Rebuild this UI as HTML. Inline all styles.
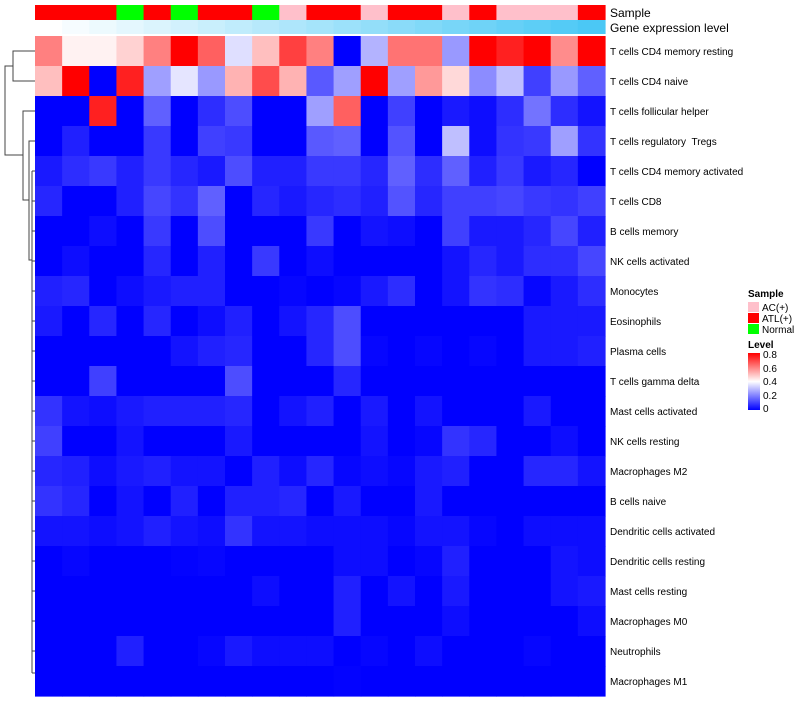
<!DOCTYPE html>
<html><head><meta charset="utf-8"><style>
body{margin:0;background:#fff;font-family:"Liberation Sans",sans-serif;}
svg text{font-family:"Liberation Sans",sans-serif;}
</style></head><body>
<svg id="chart" width="800" height="700" xmlns="http://www.w3.org/2000/svg">
<g id="dendro" stroke="#444" fill="none" stroke-width="1">
<path d="M35,51 H13 V81 H35"/>
<path d="M13,66 H5 V155 H23"/>
<path d="M35,111 H23 V200 H29"/>
<path d="M35,141 H29 V260 H32"/>
<path d="M32,171 V673"/>
<path d="M32,171 H35 M32,201 H35 M32,231 H35 M32,261 H35 M32,291 H35 M32,321 H35 M32,351 H35 M32,381 H35 M32,411 H35 M32,441 H35 M32,471 H35 M32,501 H35 M32,531 H35 M32,561 H35 M32,591 H35 M32,621 H35 M32,651 H35 M32,673 H35"/>
</g>
<g id="cells"></g>
<g id="annot"></g>
<g id="labels"></g>
<text x="610" y="17" font-size="12">Sample</text>
<text x="610" y="32" font-size="12">Gene expression level</text>
<g>
<text x="748" y="297" font-size="10" font-weight="bold">Sample</text>
<rect x="748" y="302" width="11" height="10" fill="#FFC0CB"/>
<text x="762" y="311" font-size="10">AC(+)</text>
<rect x="748" y="313" width="11" height="10" fill="#FF0000"/>
<text x="762" y="322" font-size="10">ATL(+)</text>
<rect x="748" y="324" width="11" height="10" fill="#00FF00"/>
<text x="762" y="333" font-size="10">Normal</text>
<text x="748" y="348" font-size="10" font-weight="bold">Level</text>
<defs><linearGradient id="lg" x1="0" y1="1" x2="0" y2="0"><stop offset="0" stop-color="#0000FF"/><stop offset="0.5" stop-color="#FFFFFF"/><stop offset="1" stop-color="#FF0000"/></linearGradient></defs>
<rect x="748" y="353" width="12" height="57" fill="url(#lg)"/>
<text x="763" y="358" font-size="10">0.8</text>
<text x="763" y="372" font-size="10">0.6</text>
<text x="763" y="385" font-size="10">0.4</text>
<text x="763" y="399" font-size="10">0.2</text>
<text x="763" y="412" font-size="10">0</text>
</g>
</svg>
<script>
const rowNames=["T cells CD4 memory resting","T cells CD4 naive","T cells follicular helper","T cells regulatory\u00a0\u00a0Tregs","T cells CD4 memory activated","T cells CD8","B cells memory","NK cells activated","Monocytes","Eosinophils","Plasma cells","T cells gamma delta","Mast cells activated","NK cells resting","Macrophages M2","B cells naive","Dendritic cells activated","Dendritic cells resting","Mast cells resting","Macrophages M0","Neutrophils","Macrophages M1"];
const sampleGroups=["ATL","ATL","ATL","N","ATL","N","ATL","ATL","N","AC","ATL","ATL","AC","ATL","ATL","AC","ATL","AC","AC","AC","ATL"];
const geneLevel=[0,0.05,0.1,0.15,0.2,0.25,0.3,0.35,0.4,0.45,0.5,0.55,0.6,0.65,0.7,0.75,0.8,0.85,0.9,0.95,1];
const v0=[.6,.42,.42,.47,.6,.8,.65,.35,.5,.7,.6,0,.28,.62,.62,.24,.8,.75,.8,.58,.8];
const v1=[.5,.8,0,.75,.25,.36,.24,.52,.68,.52,.14,.25,.8,.25,.56,.46,.22,.3,.1,.24,.15];
const v2=[0,0,.75,0,.15,0,.07,.12,0,0,.25,.65,0,.1,0,.04,.02,.07,.18,.07,.03];
const v3=[0,.05,0,0,.09,0,.1,.09,0,0,.14,.15,0,.13,0,.3,.02,.08,.09,.25,.08];
const v4=[.04,.07,.09,.05,.09,.06,.04,.12,.05,.05,.09,.09,.06,.15,.07,.15,.05,.09,.04,.06,0];
const v5=[.06,0,0,.05,.11,.08,.15,0,.06,.04,.06,.07,.05,.13,.06,.1,.1,.11,.09,.08,.1];
const v6=[0,0,.02,0,.09,0,.12,0,0,0,.09,0,.03,.02,0,.1,.04,.04,.06,.11,.05];
const v7=[0,.02,0,0,.06,0,.05,0,.09,0,.02,0,0,0,0,.03,.06,.04,.07,.07,.11];
const v8=[.05,.06,0,.02,.04,.05,.05,0,0,.01,0,.01,.04,.07,0,.03,.08,.07,.01,.04,.07];
const v9=[.04,0,.06,0,.06,0,.02,.05,0,.03,.06,.12,0,0,0,0,0,0,.04,.04,.04];
const v10=[0,0,0,0,0,.03,.05,.06,0,0,.06,.12,.01,0,.01,0,.01,0,.04,.04,.05];
const v11=[0,0,.1,0,0,0,0,.12,0,0,0,.06,0,0,0,0,0,0,0,0,0];
const v12=[.08,.03,.02,.04,.05,.05,.05,.06,0,.03,.05,0,.04,0,.03,0,0,0,.04,0,0];
const v13=[.1,0,0,.03,0,0,0,.04,0,0,0,0,.03,0,.01,.08,.06,0,0,.02,0];
const v14=[.06,.05,.02,.04,.05,.03,.03,0,.05,.02,.06,.01,.02,.01,.04,.05,0,0,.06,.06,.03];
const v15=[.08,.06,0,.03,0,.05,0,.05,.05,.06,0,.04,0,0,.04,0,0,0,0,0,0];
const v16=[.03,.03,.02,.03,.05,.03,.02,.08,.03,.03,.02,.02,.02,.01,.03,.03,.01,0,.02,.02,.02];
const v17=[0,.01,0,0,0,.005,.01,0,0,0,0,.02,.02,0,.01,.05,0,0,0,.03,.02];
const v18=[0,0,0,0,0,0,0,0,.02,0,0,.05,0,.03,0,.04,0,0,0,.03,.04];
const v19=[0,0,0,0,0,0,0,0,0,0,0,.05,0,0,0,.02,0,0,0,0,.02];
const v20=[0,0,0,.05,0,0,.01,.04,.02,.02,.02,0,.01,0,.02,0,0,0,.01,0,0];
const v21=[0,0,0,0,0,0,0,0,0,0,0,.005,0,0,0,0,0,0,0,0,0];
const values=[v0,v1,v2,v3,v4,v5,v6,v7,v8,v9,v10,v11,v12,v13,v14,v15,v16,v17,v18,v19,v20,v21];
const X0=35,X1=605,Y0=36,Y1=696;
const nC=sampleGroups.length,nR=rowNames.length;
const cw=(X1-X0)/nC,rh=(Y1-Y0)/nR;
const xPos=i=>X0+i*cw, yPos=j=>Y0+j*rh;
function col(v){v=Math.max(0,Math.min(.8,v));
 if(v<=.4){const t=v/.4;const c=Math.round(255*t);return `rgb(${c},${c},255)`;}
 const t=(v-.4)/.4;const c=Math.round(255*(1-t));return `rgb(255,${c},${c})`;}
const NS="http://www.w3.org/2000/svg";
const cells=document.getElementById('cells');
values.forEach((row,j)=>row.forEach((v,i)=>{
 const r=document.createElementNS(NS,'rect');
 r.setAttribute('x',xPos(i));r.setAttribute('y',yPos(j));
 r.setAttribute('width',cw+0.6);r.setAttribute('height',rh+0.6);
 r.setAttribute('fill',col(v));
 
 
 cells.appendChild(r);}));
const sc={ATL:"#FF0000",N:"#00FF00",AC:"#FFC0CB"};
const an=document.getElementById('annot');
sampleGroups.forEach((g,i)=>{
 const r=document.createElementNS(NS,'rect');
 r.setAttribute('x',xPos(i));r.setAttribute('y',5);r.setAttribute('width',cw+0.6);r.setAttribute('height',15);
 r.setAttribute('fill',sc[g]);
 
 
 an.appendChild(r);
 const t=geneLevel[i];
 const q=document.createElementNS(NS,'rect');
 q.setAttribute('x',xPos(i));q.setAttribute('y',20);q.setAttribute('width',cw+0.6);q.setAttribute('height',14);
 q.setAttribute('fill',`rgb(${Math.round(255-t*180)},${Math.round(255-t*55)},${Math.round(255-t*10)})`);
 
 
 an.appendChild(q);});
const lb=document.getElementById('labels');
rowNames.forEach((n,j)=>{
 const t=document.createElementNS(NS,'text');
 t.setAttribute('x',610);t.setAttribute('y',yPos(j)+rh/2+4);t.setAttribute('font-size','10');
 t.textContent=n;
 
 
 lb.appendChild(t);});
</script>
</body></html>
